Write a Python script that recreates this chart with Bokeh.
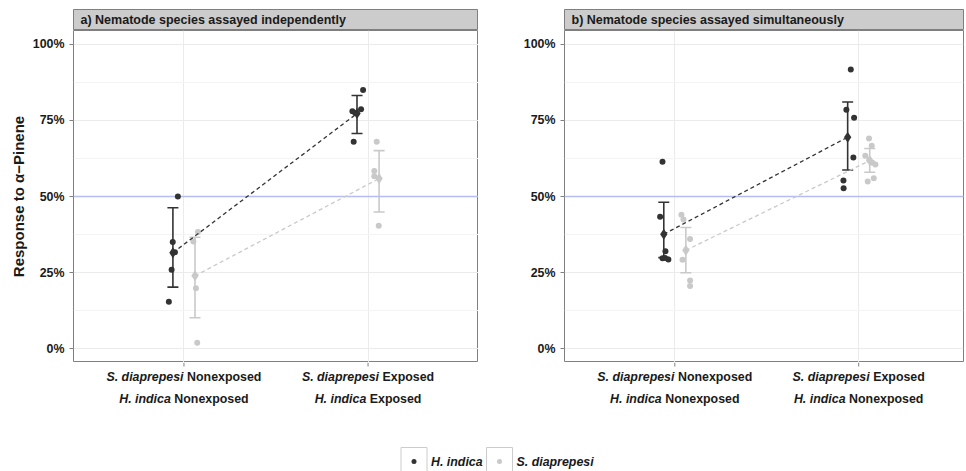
from bokeh.plotting import figure
from bokeh.layouts import column, row
from bokeh.models import Range1d, FixedTicker, Label, Whisker, TeeHead, ColumnDataSource
from bokeh.embed import file_html
from bokeh.resources import INLINE
from bokeh.core.properties import value

FONT = "Liberation Sans"
DARK = "#333333"
LIGHT = "#c9c9c9"
TXT = "#1a1a1a"
FS = 12.4

# ---------------- data ----------------
categories = [1, 2]
panel_titles = ["a) Nematode species assayed independently",
                "b) Nematode species assayed simultaneously"]
tick_labels_a = [[("S. diaprepesi", "Nonexposed"), ("H. indica", "Nonexposed")],
                 [("S. diaprepesi", "Exposed"), ("H. indica", "Exposed")]]
tick_labels_b = [[("S. diaprepesi", "Nonexposed"), ("H. indica", "Nonexposed")],
                 [("S. diaprepesi", "Exposed"), ("H. indica", "Nonexposed")]]
y_ticks = [0, 25, 50, 75, 100]
y_tick_labels = ["0%", "25%", "50%", "75%", "100%"]
reference_level = 50
legend_labels = ["H. indica", "S. diaprepesi"]

# panel a : individual replicate responses (%), x offset from category centre
a_hi_y = [[50.0, 35.0, 31.7, 25.9, 15.4], [85.0, 78.7, 78.0, 77.5, 68.0]]
a_hi_dx = [[-0.033, -0.061, -0.049, -0.067, -0.082], [-0.027, -0.038, -0.085, -0.069, -0.078]]
a_sd_y = [[38.3, 35.2, 19.8, 1.9], [68.0, 58.4, 56.7, 40.4]]
a_sd_dx = [[0.076, 0.051, 0.065, 0.072], [0.047, 0.034, 0.034, 0.058]]
a_hi_mean = [31.5, 77.3]
a_hi_lo = [20.2, 70.7]
a_hi_up = [46.3, 83.2]
a_sd_mean = [23.9, 55.9]
a_sd_lo = [10.1, 44.9]
a_sd_up = [36.6, 65.1]

# panel b
b_hi_y = [[61.4, 43.3, 32.0, 29.7, 29.8, 29.3], [91.8, 78.5, 75.9, 62.8, 55.3, 52.7]]
b_hi_dx = [[-0.067, -0.080, -0.051, -0.067, -0.053, -0.035],
           [-0.043, -0.067, -0.025, -0.029, -0.083, -0.082]]
b_sd_y = [[44.0, 42.4, 36.0, 29.2, 22.4, 20.6], [69.1, 66.7, 63.4, 62.0, 61.1, 60.5, 56.0, 54.9]]
b_sd_dx = [[0.036, 0.047, 0.083, 0.042, 0.083, 0.083],
           [0.056, 0.071, 0.036, 0.058, 0.074, 0.091, 0.082, 0.049]]
b_hi_mean = [37.6, 69.5]
b_hi_lo = [29.9, 58.7]
b_hi_up = [48.1, 81.1]
b_sd_mean = [32.3, 61.8]
b_sd_lo = [24.9, 58.0]
b_sd_up = [39.8, 65.8]

DODGE = 0.06

# Arial/Liberation Sans Bold advance widths (per 1000 em)
W = {' ': 278, '.': 278, 'a': 556, 'c': 556, 'd': 611, 'e': 556, 'i': 278, 'n': 611,
     'o': 611, 'p': 611, 'r': 389, 's': 556, 'x': 556, 't': 333, 'E': 667, 'H': 722,
     'N': 722, 'S': 667}


def tw(s, size):
    return sum(W.get(ch, 556) for ch in s) * size / 1000.0


def strip(title, left, fw, right):
    s = figure(title=None, frame_width=fw, frame_height=21, x_range=Range1d(0, fw),
               y_range=Range1d(0, 21), x_axis_type=None, y_axis_type=None,
               min_border_left=left, min_border_right=right, min_border_top=9,
               min_border_bottom=0, toolbar_location=None, output_backend="svg",
               background_fill_color="#cccccc", outline_line_color="#7f7f7f")
    s.grid.visible = False
    s.add_layout(Label(x=7, y=10.5, text=title, text_baseline="middle", text_align="left",
                       text_font=FONT, text_font_style="bold", text_font_size="12.5px",
                       text_color=TXT))
    return s


def panel(hi_y, hi_dx, sd_y, sd_dx, hi_m, hi_lo, hi_up, sd_m, sd_lo, sd_up,
          left, fw, right, xr, ylabel):
    p = figure(title=None, frame_width=fw, frame_height=332,
               x_range=xr, y_range=Range1d(-4.6, 104.6), x_axis_location=None,
               min_border_left=left, min_border_right=right, min_border_top=0,
               min_border_bottom=0, toolbar_location=None, output_backend="svg",
               background_fill_color="white", border_fill_color="white",
               outline_line_color="#7f7f7f", outline_line_width=1)
    p.xgrid.ticker = FixedTicker(ticks=categories)
    p.yaxis.ticker = FixedTicker(ticks=y_ticks, minor_ticks=[12.5, 37.5, 62.5, 87.5])
    p.yaxis.major_label_overrides = {t: l for t, l in zip(y_ticks, y_tick_labels)}
    ax = p.yaxis[0]
    ax.axis_line_color = None
    ax.major_tick_line_color = "#7f7f7f"
    ax.major_tick_in = 0
    ax.major_tick_out = 4
    ax.minor_tick_line_color = None
    ax.major_label_text_font = FONT
    ax.major_label_text_font_style = "bold"
    ax.major_label_text_font_size = f"{FS}px"
    ax.major_label_text_color = TXT
    ax.major_label_standoff = 5
    if ylabel:
        ax.axis_label = ylabel
        ax.axis_label_text_font = FONT
        ax.axis_label_text_font_style = "bold"
        ax.axis_label_text_font_size = "15px"
        ax.axis_label_text_color = TXT
        ax.axis_label_standoff = 3
    p.xgrid.grid_line_color = "#ebebeb"
    p.ygrid.grid_line_color = "#ebebeb"
    p.ygrid.minor_grid_line_color = "#f4f4f4"

    p.hspan(y=[reference_level], line_color="#b5bdf2", line_width=1.5)

    for ys, dxs, col in ((hi_y, hi_dx, DARK), (sd_y, sd_dx, LIGHT)):
        xs, yy = [], []
        for c, yv, dv in zip(categories, ys, dxs):
            xs += [c + d for d in dv]
            yy += yv
        p.scatter(xs, yy, size=6, color=col, line_width=0)

    for m, lo, up, col, off in ((hi_m, hi_lo, hi_up, DARK, -DODGE),
                                (sd_m, sd_lo, sd_up, LIGHT, DODGE)):
        xs = [c + off for c in categories]
        src = ColumnDataSource(dict(x=xs, lo=lo, up=up, m=m))
        p.add_layout(Whisker(source=src, base="x", lower="lo", upper="up", dimension="height",
                             line_color=col, line_width=1.6,
                             upper_head=TeeHead(size=11, line_color=col, line_width=1.6),
                             lower_head=TeeHead(size=11, line_color=col, line_width=1.6)))
        p.scatter("x", "m", source=src, marker="diamond", size=11, color=col, line_width=0)
        p.line(xs, m, line_dash="4 3", line_color=col, line_width=1.3)
    return p


def tick_fig(ticklabels, left, fw, right, xr):
    t = figure(title=None, frame_width=fw, frame_height=57, x_range=xr,
               y_range=Range1d(57, 0), x_axis_type=None, y_axis_type=None,
               min_border_left=left, min_border_right=right, min_border_top=0,
               min_border_bottom=0, toolbar_location=None, output_backend="svg",
               outline_line_color=None)
    t.grid.visible = False
    # tick marks hanging below the panel
    t.segment(x0=categories, y0=[0, 0], x1=categories, y1=[4, 4],
              line_color="#7f7f7f", line_width=1)
    for style, idx in (("bold italic", 0), ("bold", 1)):
        xs, ys, txt, offs = [], [], [], []
        for c, lines in zip(categories, ticklabels):
            for k, (it, pl) in enumerate(lines):
                total = tw(it + " " + pl, FS)
                xs.append(c)
                ys.append(14 + 22 * k)
                if idx == 0:
                    txt.append(it)
                    offs.append(-total / 2)
                else:
                    txt.append(pl)
                    offs.append(-total / 2 + tw(it + " ", FS))
        t.text(x=xs, y=ys, text=txt, x_offset=offs, text_font=value(FONT),
               text_font_style=style, text_font_size=f"{FS}px", text_color=TXT,
               text_align="left", text_baseline="middle")
    return t


xra = Range1d(0.4, 2.6)
xrb = Range1d(0.4, 2.57)
pa = panel(a_hi_y, a_hi_dx, a_sd_y, a_sd_dx, a_hi_mean, a_hi_lo, a_hi_up,
           a_sd_mean, a_sd_lo, a_sd_up, 73, 405, 0, xra, "Response to α−Pinene")
pb = panel(b_hi_y, b_hi_dx, b_sd_y, b_sd_dx, b_hi_mean, b_hi_lo, b_hi_up,
           b_sd_mean, b_sd_lo, b_sd_up, 86, 399, 3, xrb, None)
sa = strip(panel_titles[0], 73, 405, 0)
sb = strip(panel_titles[1], 86, 399, 3)
ta = tick_fig(tick_labels_a, 73, 405, 0, xra)
tb = tick_fig(tick_labels_b, 86, 399, 3, xrb)

# legend
leg = figure(title=None, width=966, height=52, x_range=Range1d(0, 966), y_range=Range1d(52, 0),
             x_axis_type=None, y_axis_type=None, min_border=0, toolbar_location=None,
             output_backend="svg", outline_line_color=None)
leg.grid.visible = False
key_left = [400.5, 486.0]
key_w = 26
leg.quad(left=key_left, right=[k + key_w for k in key_left], top=[28, 28], bottom=[60, 60],
         fill_color="white", line_color="#cccccc", line_width=1)
leg.scatter([k + key_w / 2 for k in key_left], [42, 42], size=5, color=[DARK, LIGHT], line_width=0)
leg.text([k + key_w + 4 for k in key_left], [42.5, 42.5], text=legend_labels,
         text_font=value(FONT), text_font_style="bold italic", text_font_size=f"{FS}px",
         text_baseline="middle", text_align="left", text_color=TXT)

layout = column(row(column(sa, pa, ta), column(sb, pb, tb)), leg)
open("out.html", "w").write(file_html(layout, INLINE))
